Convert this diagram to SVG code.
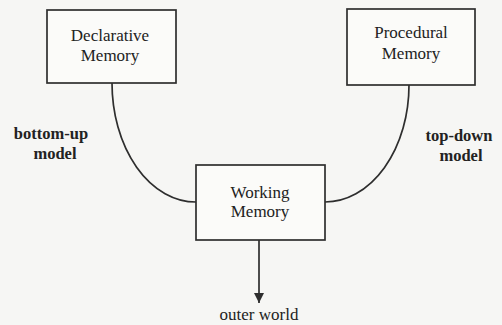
<svg xmlns="http://www.w3.org/2000/svg" width="502" height="325" viewBox="0 0 502 325">
  <style>
    .box { fill: #fbfbf9; stroke: #2e2e2e; stroke-width: 1.7; }
    .wire { fill: none; stroke: #2e2e2e; stroke-width: 1.7; }
    .lbl { font-family: "Liberation Serif", "Times New Roman", serif; font-size: 17px; fill: #222; text-anchor: middle; }
    .side { font-family: "Liberation Serif", "Times New Roman", serif; font-size: 16.5px; font-weight: bold; fill: #222; text-anchor: middle; }
  </style>
  <defs>
    <marker id="arrow" viewBox="0 0 10 10" refX="10" refY="5" markerWidth="10" markerHeight="10" markerUnits="userSpaceOnUse" orient="auto">
      <path d="M0,0 L10,5 L0,10 Z" fill="#2e2e2e"/>
    </marker>
  </defs>
  <rect width="502" height="325" fill="#f6f6f4"/>

  <!-- curved links into Working Memory and the output arrow -->
  <g id="connectors">
    <path class="wire" d="M112,83 A84,119 0 0 0 196,202"/>
    <path class="wire" d="M409,85 A84,117 0 0 1 325,202"/>
    <path class="wire" d="M259,240 L259,303" marker-end="url(#arrow)"/>
  </g>

  <g id="declarative">
    <rect class="box" x="47" y="10" width="129" height="73"/>
    <text class="lbl" x="110" y="41">Declarative</text>
    <text class="lbl" x="110" y="61">Memory</text>
  </g>

  <g id="procedural">
    <rect class="box" x="347" y="9" width="128" height="76"/>
    <text class="lbl" x="411" y="38">Procedural</text>
    <text class="lbl" x="411" y="59">Memory</text>
  </g>

  <g id="working">
    <rect class="box" x="196" y="165" width="129" height="75"/>
    <text class="lbl" x="260" y="198">Working</text>
    <text class="lbl" x="260" y="217">Memory</text>
  </g>

  <g id="bottom-up">
    <text class="side" x="51" y="139">bottom-up</text>
    <text class="side" x="55" y="159">model</text>
  </g>

  <g id="top-down">
    <text class="side" x="459" y="141">top-down</text>
    <text class="side" x="461" y="161">model</text>
  </g>

  <g id="outer-world">
    <text class="lbl" x="259" y="320">outer world</text>
  </g>
</svg>
